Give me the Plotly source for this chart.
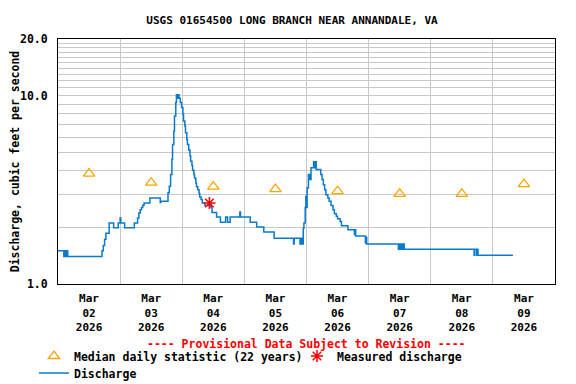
import pandas as pd
import plotly.graph_objects as go

# ---------------- data ----------------
start = pd.Timestamp("2026-03-02 00:00")

# instantaneous discharge (hours after 2026-03-02 00:00, cfs), step series
q_hours = [0, 2.25, 2.5, 2.75, 3.0, 3.25, 3.5, 3.75, 17.0, 17.5, 18.0, 18.5, 19.75,
           21.5, 23.25, 24.0, 24.25, 25.75, 29.5, 30.75, 31.25, 31.75, 32.25, 32.75,
           33.25, 35.5, 39.5, 39.75, 42.5, 43.0, 43.5, 44.0, 44.25, 44.75, 45.0, 45.5,
           45.75, 46.25, 46.5, 46.75, 47.25, 47.75, 48.25, 48.5, 49.0, 49.25, 49.75,
           50.0, 50.5, 51.0, 51.25, 51.75, 52.0, 52.5, 52.75, 53.25, 53.5, 54.0, 54.5,
           54.75, 55.25, 55.75, 56.75, 59.0, 59.5, 61.25, 62.75, 64.75, 65.5, 66.5,
           70.25, 70.5, 74.25, 76.75, 79.5, 83.5, 91.0, 91.25, 93.5, 93.75, 94.0,
           94.25, 94.5, 94.75, 95.0, 95.5, 95.75, 96.0, 96.25, 96.75, 97.25, 97.75,
           98.75, 99.0, 99.25, 99.75, 101.5, 102.0, 102.5, 103.0, 103.5, 104.25,
           104.75, 105.5, 106.25, 106.75, 107.5, 108.0, 109.0, 109.5, 112.0, 114.5,
           114.75, 115.0, 118.75, 119.0, 119.25, 131.5, 131.75, 132.25, 132.5, 132.75,
           133.0, 133.25, 133.5, 133.75, 160.75, 161.0, 161.75, 162.0, 162.25, 175.75]
q_cfs = [1.50, 1.40, 1.50, 1.40, 1.50, 1.40, 1.50, 1.40, 1.50, 1.60, 1.73, 1.86, 2.11,
         1.99, 2.11, 2.24, 2.11, 1.99, 2.11, 2.24, 2.38, 2.48, 2.55, 2.62,
         2.69, 2.86, 2.71, 2.75, 3.05, 3.30, 3.81, 4.59, 5.51, 6.49, 7.80, 9.20,
         10.1, 9.7, 10.1, 9.7, 9.20, 8.65, 7.97, 7.34, 6.90, 6.36, 5.86,
         5.51, 5.14, 4.78, 4.49, 4.26, 4.02, 3.81, 3.66, 3.44, 3.28, 3.17, 3.02,
         2.90, 2.81, 2.69, 2.61, 2.56, 2.40, 2.27, 2.13, 2.27, 2.13, 2.27,
         2.41, 2.27, 2.13, 2.01, 1.89, 1.75, 1.63, 1.75, 1.63, 1.75, 1.63,
         1.75, 1.63, 1.98, 2.11, 2.55, 2.92, 2.55, 3.24, 3.81, 3.59, 4.14,
         4.46, 4.14, 4.46, 4.06, 3.81, 3.59, 3.37, 3.17, 2.98, 2.86,
         2.75, 2.61, 2.48, 2.36, 2.29, 2.22, 2.15, 2.04, 1.94, 1.83,
         1.94, 1.80, 1.65, 1.77, 1.63, 1.53, 1.63, 1.53, 1.63, 1.53,
         1.63, 1.53, 1.63, 1.53, 1.42, 1.53, 1.42, 1.53, 1.42, 1.42]

median_days = ["2026-03-02 12:00", "2026-03-03 12:00", "2026-03-04 12:00", "2026-03-05 12:00",
               "2026-03-06 12:00", "2026-03-07 12:00", "2026-03-08 12:00", "2026-03-09 12:00"]
median_cfs = [3.86, 3.45, 3.29, 3.19, 3.11, 3.01, 3.01, 3.39]

measured_time = ["2026-03-04 10:30"]
measured_cfs = [2.69]

tick_dates = median_days
tick_text = ["Mar<br>02<br>2026", "Mar<br>03<br>2026", "Mar<br>04<br>2026", "Mar<br>05<br>2026",
             "Mar<br>06<br>2026", "Mar<br>07<br>2026", "Mar<br>08<br>2026", "Mar<br>09<br>2026"]
grid_dates = ["2026-03-03", "2026-03-04", "2026-03-05", "2026-03-06",
              "2026-03-07", "2026-03-08", "2026-03-09"]
y_ticks = list(range(1, 21))
y_labels = {1: "1.0", 10: "10.0", 20: "20.0"}
y_text = [y_labels.get(v, "") for v in y_ticks]

# ---------------- figure ----------------
FONT = "DejaVu Sans Mono"
W, H = 576, 384
OFF = 8  # page body margin offset of the rendered figure
q_time = [start + pd.Timedelta(hours=h) for h in q_hours]

fig = go.Figure()
fig.add_trace(go.Scatter(
    x=q_time, y=q_cfs, mode="lines", name="Discharge", line_shape="hv",
    line=dict(color="#0A7ACB", width=1.5), legend="legend3"))
fig.add_trace(go.Scatter(
    x=median_days, y=median_cfs, mode="markers", name="Median daily statistic (22 years)",
    marker=dict(symbol="triangle-up-open", size=10, color="#FFA500", line=dict(width=1.3, color="#FFA500")),
    legend="legend"))
fig.add_trace(go.Scatter(
    x=measured_time, y=measured_cfs, mode="markers", name="Measured discharge",
    marker=dict(symbol="asterisk-open", size=10, color="#FF0000", line=dict(width=1.5, color="#FF0000")),
    legend="legend2"))

legend_font = dict(family=FONT, size=11.5, color="black", weight="bold")
fig.update_layout(
    width=W, height=H,
    margin=dict(l=58 - OFF, r=W - (555 - OFF), t=39 - OFF, b=H - (284 - OFF), autoexpand=False),
    paper_bgcolor="white", plot_bgcolor="white",
    font=dict(family=FONT, size=11, color="black", weight="bold"),
    title=dict(text="USGS 01654500 LONG BRANCH NEAR ANNANDALE, VA",
               x=(292 - OFF) / W, xanchor="center", xref="container",
               y=1 - (20 - OFF) / H, yanchor="middle", yref="container",
               font=dict(family=FONT, size=11, color="black", weight="bold")),
    showlegend=True,
    legend=dict(orientation="h", xref="container", yref="container",
                x=(34 - OFF) / W, xanchor="left", y=1 - (356 - OFF) / H, yanchor="middle",
                font=legend_font, bgcolor="rgba(0,0,0,0)"),
    legend2=dict(orientation="h", xref="container", yref="container",
                 x=(297 - OFF) / W, xanchor="left", y=1 - (356 - OFF) / H, yanchor="middle",
                 font=legend_font, bgcolor="rgba(0,0,0,0)"),
    legend3=dict(orientation="h", xref="container", yref="container",
                 x=(34 - OFF) / W, xanchor="left", y=1 - (373 - OFF) / H, yanchor="middle",
                 font=legend_font, bgcolor="rgba(0,0,0,0)"),
)
fig.add_annotation(text="---- Provisional Data Subject to Revision ----",
                   xref="paper", yref="paper", x=0.5, xanchor="center",
                   y=(284 - 344) / 245, yanchor="middle", showarrow=False,
                   font=dict(family=FONT, size=11.5, color="#FF0000", weight="bold"))

fig.update_xaxes(
    type="date", range=["2026-03-02 00:00", "2026-03-10 00:00"],
    tickmode="array", tickvals=tick_dates, ticktext=tick_text, ticks="",
    showgrid=False, showline=True, linecolor="black", linewidth=1, mirror=True,
    zeroline=False, ticklabelstandoff=4, automargin=False,
    minor=dict(tickmode="array", tickvals=grid_dates, showgrid=True,
               gridcolor="#C8C8C8", gridwidth=1, ticks=""),
    tickfont=dict(family=FONT, size=11, color="black", weight="bold"))
fig.update_yaxes(
    type="log", range=[0, 1.30103],
    tickmode="array", tickvals=y_ticks, ticktext=y_text, ticks="",
    showgrid=True, gridcolor="#C8C8C8", gridwidth=1,
    showline=True, linecolor="black", linewidth=1, mirror=True,
    zeroline=False, ticklabelstandoff=7, automargin=False,
    tickfont=dict(family=FONT, size=11.5, color="black", weight="bold"),
    title=dict(text="Discharge, cubic feet per second", standoff=4,
               font=dict(family=FONT, size=11.5, color="black", weight="bold")))

fig.write_html("out.html")
